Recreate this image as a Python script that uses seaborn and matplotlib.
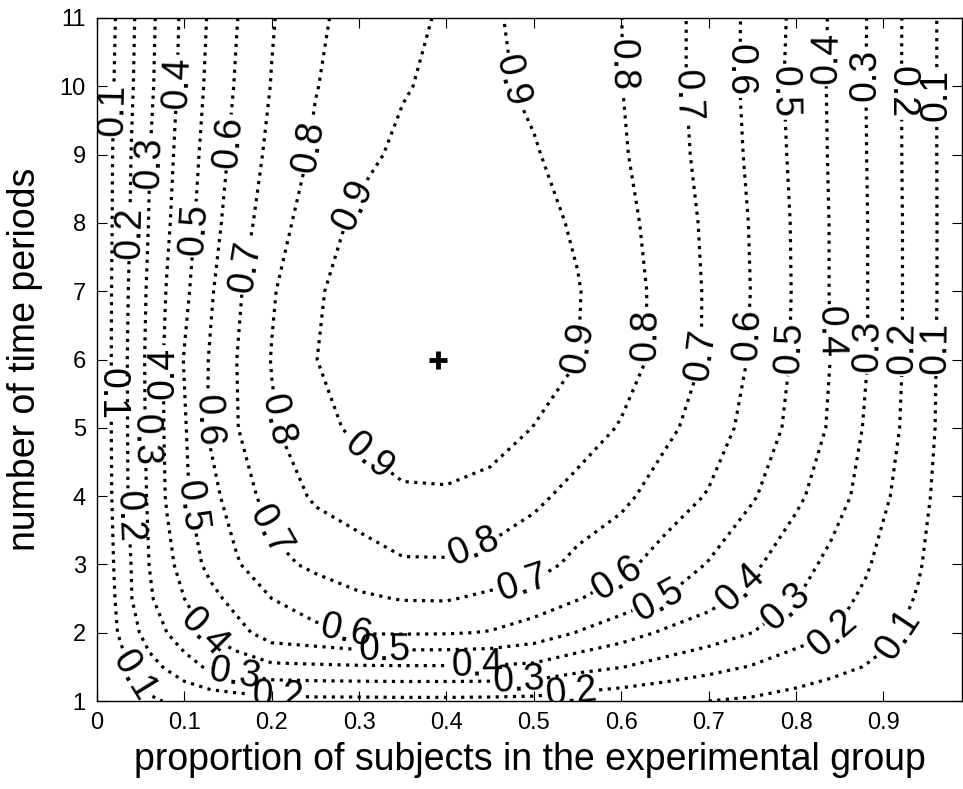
import numpy as np
import pandas as pd
import seaborn as sns
import matplotlib
matplotlib.use('Agg')
import matplotlib.pyplot as plt

# proportion of subjects in the experimental group (grid columns)
proportion = [0, 0.02, 0.04, 0.06, 0.08, 0.10, 0.13, 0.16, 0.20, 0.25, 0.30, 0.35, 0.40,
              0.45, 0.50, 0.55, 0.60, 0.65, 0.70, 0.75, 0.80, 0.84, 0.88, 0.91, 0.94, 0.97, 0.99]
# number of time periods (grid rows)
periods = [1, 1.5, 2, 2.5, 3, 4, 5, 6, 7, 8, 9, 10, 11]

# relative efficiency, one list per row of the grid
eff_T1 = [0, 0.03, 0.055, 0.085, 0.105, 0.125, 0.14, 0.155, 0.168, 0.175, 0.175, 0.177, 0.177,
          0.175, 0.17, 0.152, 0.135, 0.118, 0.10, 0.087, 0.065, 0.05, 0.035, 0.025, 0.018, 0.008, 0.003]
eff_T1_5 = [0, 0.06, 0.11, 0.17, 0.21, 0.255, 0.32, 0.345, 0.38, 0.385, 0.39, 0.392, 0.392,
            0.39, 0.38, 0.332, 0.303, 0.265, 0.23, 0.194, 0.157, 0.125, 0.097, 0.08, 0.05, 0.025, 0.008]
eff_T2 = [0, 0.085, 0.17, 0.24, 0.30, 0.36, 0.413, 0.465, 0.55, 0.575, 0.607, 0.609, 0.607,
          0.595, 0.555, 0.496, 0.442, 0.386, 0.347, 0.30, 0.237, 0.205, 0.139, 0.11, 0.075, 0.035, 0.012]
eff_T2_5 = [0, 0.097, 0.20, 0.285, 0.355, 0.40, 0.47, 0.535, 0.60, 0.653, 0.685, 0.705, 0.707,
            0.68, 0.655, 0.605, 0.554, 0.498, 0.433, 0.366, 0.303, 0.24, 0.181, 0.13, 0.093, 0.045, 0.015]
eff_T3 = [0, 0.105, 0.205, 0.302, 0.372, 0.44, 0.53, 0.59, 0.675, 0.717, 0.755, 0.789, 0.79,
          0.765, 0.74, 0.673, 0.624, 0.561, 0.494, 0.418, 0.339, 0.276, 0.212, 0.149, 0.108, 0.052, 0.017]
eff_T4 = [0, 0.118, 0.224, 0.315, 0.409, 0.485, 0.568, 0.654, 0.735, 0.815, 0.85, 0.885, 0.887,
          0.87, 0.82, 0.77, 0.725, 0.65, 0.593, 0.51, 0.42, 0.345, 0.265, 0.195, 0.132, 0.063, 0.019]
eff_T5 = [0, 0.122, 0.226, 0.324, 0.416, 0.491, 0.614, 0.696, 0.789, 0.866, 0.922, 0.955, 0.965,
          0.94, 0.898, 0.844, 0.793, 0.724, 0.65, 0.565, 0.469, 0.388, 0.29, 0.221, 0.148, 0.073, 0.024]
eff_T6 = [0, 0.122, 0.228, 0.327, 0.418, 0.505, 0.609, 0.70, 0.804, 0.898, 0.95, 0.985, 0.999,
          0.98, 0.945, 0.901, 0.84, 0.77, 0.686, 0.588, 0.485, 0.398, 0.305, 0.23, 0.153, 0.075, 0.025]
eff_T7 = [0, 0.12, 0.221, 0.319, 0.405, 0.478, 0.589, 0.684, 0.79, 0.89, 0.937, 0.97, 0.99,
          0.975, 0.945, 0.905, 0.842, 0.77, 0.687, 0.596, 0.488, 0.395, 0.305, 0.23, 0.154, 0.078, 0.028]
eff_T8 = [0, 0.115, 0.211, 0.305, 0.386, 0.458, 0.563, 0.653, 0.753, 0.855, 0.92, 0.95, 0.974,
          0.958, 0.928, 0.889, 0.829, 0.76, 0.681, 0.592, 0.486, 0.395, 0.305, 0.23, 0.154, 0.078, 0.028]
eff_T9 = [0, 0.112, 0.205, 0.297, 0.373, 0.444, 0.544, 0.63, 0.725, 0.816, 0.875, 0.92, 0.95,
          0.94, 0.907, 0.863, 0.811, 0.744, 0.668, 0.582, 0.478, 0.391, 0.302, 0.228, 0.152, 0.078, 0.028]
eff_T10 = [0, 0.103, 0.193, 0.281, 0.359, 0.43, 0.525, 0.61, 0.704, 0.796, 0.85, 0.893, 0.923,
           0.916, 0.885, 0.846, 0.802, 0.736, 0.662, 0.575, 0.471, 0.389, 0.30, 0.227, 0.152, 0.078, 0.028]
eff_T11 = [0, 0.095, 0.186, 0.274, 0.352, 0.422, 0.514, 0.597, 0.693, 0.78, 0.842, 0.888, 0.906,
           0.908, 0.882, 0.843, 0.801, 0.736, 0.662, 0.577, 0.478, 0.391, 0.302, 0.228, 0.152, 0.078, 0.028]

levels = [0.1, 0.2, 0.3, 0.4, 0.5, 0.6, 0.7, 0.8, 0.9]
opt_p, opt_T = 0.39, 6   # optimal design (marked with +)

rows = [eff_T1, eff_T1_5, eff_T2, eff_T2_5, eff_T3, eff_T4, eff_T5, eff_T6,
        eff_T7, eff_T8, eff_T9, eff_T10, eff_T11]
df = pd.DataFrame(rows, index=periods, columns=proportion)

sns.set_style('ticks')
plt.rcParams['font.family'] = ['Liberation Sans', 'DejaVu Sans']
plt.rcParams['text.color'] = 'k'
plt.rcParams['axes.labelcolor'] = 'k'
plt.rcParams['lines.dotted_pattern'] = [1.0, 1.7]

fig = plt.figure(figsize=(9.63, 7.89), dpi=100)
ax = fig.add_axes([0.1007, 0.1115, 0.8983, 0.8657])

X, Y = np.meshgrid(df.columns.values, df.index.values)
cs = ax.contour(X, Y, df.values, levels=levels, colors='k',
                linestyles=':', linewidths=2.3)

# label spots, roughly where the original put them
label_pos = [
    (0.023, 9.65), (0.041, 7.85), (0.066, 8.88), (0.097, 10.05), (0.116, 7.9),
    (0.158, 9.17), (0.173, 7.35), (0.247, 9.11), (0.299, 8.23),
    (0.014, 5.5), (0.047, 4.82), (0.080, 5.8), (0.123, 5.11), (0.201, 5.11),
    (0.031, 3.7), (0.101, 3.84), (0.192, 3.46), (0.306, 4.5),
    (0.045, 1.4), (0.115, 1.94), (0.158, 1.41), (0.207, 1.08), (0.283, 1.96),
    (0.329, 1.72), (0.436, 3.1), (0.435, 1.55), (0.483, 1.3), (0.543, 1.08),
    (0.489, 2.67),
    (0.598, 2.73), (0.647, 2.33), (0.743, 2.58), (0.794, 2.29), (0.849, 1.89),
    (0.926, 1.89),
    (0.561, 6.17), (0.635, 6.36), (0.692, 6.07), (0.747, 6.36), (0.795, 6.17),
    (0.840, 6.4), (0.883, 6.2), (0.922, 6.17), (0.961, 6.17),
    (0.478, 10.09), (0.603, 10.31), (0.678, 9.87), (0.739, 10.24), (0.787, 9.92),
    (0.836, 10.41), (0.881, 10.17), (0.921, 9.92), (0.961, 9.87),
]
ax.clabel(cs, fmt='%.1f', fontsize=27, inline=True, inline_spacing=2,
          manual=label_pos, colors='k')

ax.plot([opt_p], [opt_T], marker='+', color='k', markersize=13, markeredgewidth=3.5)

ax.set_xlim(0, 0.99)
ax.set_ylim(1, 11)
ax.set_xticks([0, 0.1, 0.2, 0.3, 0.4, 0.5, 0.6, 0.7, 0.8, 0.9])
ax.set_xticklabels(['0', '0.1', '0.2', '0.3', '0.4', '0.5', '0.6', '0.7', '0.8', '0.9'])
ax.set_yticks(range(1, 12))
ax.tick_params(direction='in', top=True, right=True, length=7, width=0.8,
               labelsize=17, colors='k', labelcolor='k', pad=8)
for s in ax.spines.values():
    s.set_visible(True)
    s.set_linewidth(1.0)
    s.set_color('k')

ax.set_xlabel('proportion of subjects in the experimental group', fontsize=27,
              labelpad=6, color='k')
ax.set_ylabel('number of time periods', fontsize=27, labelpad=12, color='k')

fig.savefig('out.png', dpi=100)
